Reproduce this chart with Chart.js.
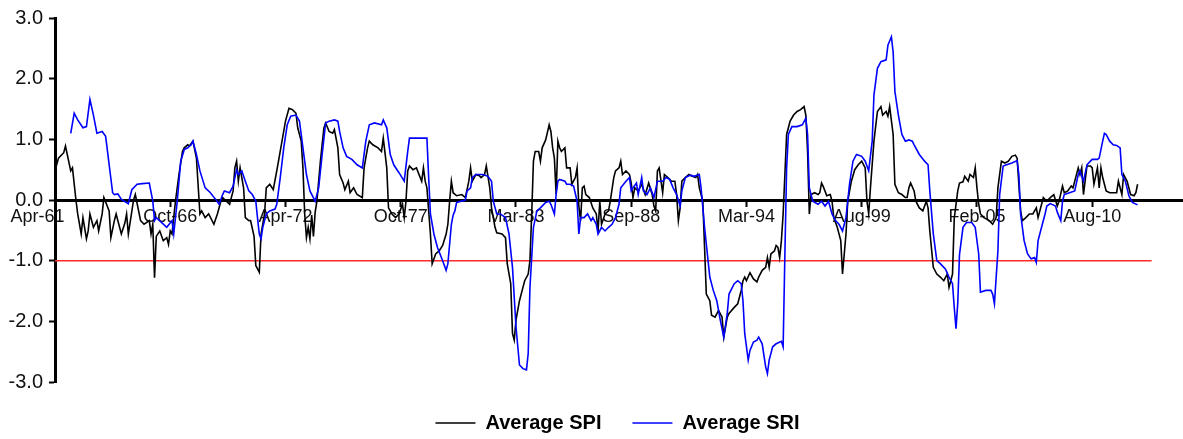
<!DOCTYPE html>
<html>
<head>
<meta charset="utf-8">
<script src="https://cdn.jsdelivr.net/npm/chart.js@4"></script>
<style>
  html, body { margin: 0; padding: 0; background: #fff; }
  canvas { display: block; }
</style>
</head>
<body>
<canvas id="graphique" width="1183" height="439"></canvas>
<script>
// month offset from Apr-61 (one tick label every 66 months)
const tickMonths = [0, 66, 132, 198, 264, 330, 396, 462, 528, 594];
const tickLabels = ['Apr-61', 'Oct-66', 'Apr-72', 'Oct-77', 'Mar-83', 'Sep-88', 'Mar-94', 'Aug-99', 'Feb-05', 'Aug-10'];
const axisEnd = 646;
const lastMonth = 628;
const droughtLevel = -1.0;

// Average SPI, [month, value]
const spiPoints = [
  [0,0.48],[2,0.69],[5,0.78],[6,0.89],[9,0.48],[10,0.53],[12,0.0],[13,-0.23],[15,-0.56],[16,-0.29],
  [18,-0.64],[19,-0.51],[20,-0.23],[22,-0.45],[24,-0.34],[25,-0.51],[27,-0.23],[28,0.04],[31,-0.18],[32,-0.62],
  [34,-0.34],[35,-0.23],[38,-0.56],[40,-0.38],[41,-0.23],[42,-0.56],[45,0.0],[46,0.09],[49,-0.34],[51,-0.4],
  [54,-0.34],[55,-0.56],[56,-0.4],[57,-1.28],[58,-0.6],[60,-0.51],[62,-0.67],[64,-0.62],[65,-0.73],[66,-0.51],
  [67,-0.56],[69,-0.02],[71,0.42],[73,0.80],[74,0.86],[76,0.91],[77,0.89],[79,0.97],[81,0.69],[83,-0.23],
  [84,-0.18],[86,-0.29],[88,-0.23],[91,-0.40],[93,-0.23],[95,-0.02],[96,0.04],[100,-0.07],[102,0.15],[103,0.53],
  [104,0.64],[105,0.31],[106,0.53],[108,0.2],[109,-0.29],[111,-0.34],[112,-0.34],[114,-0.6],[115,-1.08],[117,-1.19],
  [118,-0.56],[120,-0.23],[121,0.2],[123,0.26],[125,0.17],[127,0.48],[128,0.64],[130,0.97],[132,1.30],[134,1.51],
  [136,1.49],[138,1.43],[139,1.19],[141,0.97],[142,0.53],[143,-0.23],[144,-0.62],[145,-0.45],[146,-0.64],[147,-0.25],
  [148,-0.6],[149,-0.2],[150,-0.02],[152,0.64],[154,1.19],[155,1.27],[157,1.13],[159,1.10],[160,1.16],[162,0.86],
  [163,0.42],[165,0.28],[166,0.17],[168,0.31],[169,0.12],[171,0.2],[173,0.09],[176,0.04],[177,0.53],[179,0.86],
  [180,0.97],[182,0.91],[185,0.86],[187,0.80],[188,1.02],[190,0.53],[191,-0.13],[193,-0.23],[195,-0.29],[197,-0.23],
  [199,-0.07],[200,-0.29],[201,-0.02],[202,0.48],[203,0.56],[205,0.50],[207,0.53],[210,0.31],[211,0.53],[212,0.31],
  [213,0.2],[215,-0.56],[216,-1.05],[218,-0.89],[220,-0.84],[222,-0.75],[224,-0.56],[225,-0.40],[226,-0.02],[227,0.31],
  [228,0.12],[230,0.07],[233,0.09],[235,0.04],[237,0.31],[238,0.53],[239,0.31],[241,0.42],[243,0.40],[244,0.37],
  [246,0.42],[247,0.56],[249,0.20],[250,-0.13],[252,-0.45],[253,-0.54],[256,-0.56],[258,-0.62],[259,-1.05],[261,-1.38],
  [262,-2.20],[263,-2.31],[264,-1.98],[266,-1.66],[268,-1.44],[269,-1.33],[271,-1.22],[272,-1.0],[273,-0.23],[274,0.64],
  [275,0.80],[277,0.80],[278,0.64],[279,0.86],[281,0.99],[283,1.24],[284,1.13],[285,0.86],[286,0.69],[287,0.09],
  [288,0.97],[289,0.86],[290,0.80],[292,0.86],[293,0.53],[295,0.53],[296,0.26],[298,0.37],[299,0.53],[300,-0.1],
  [301,-0.34],[302,0.2],[303,0.23],[304,0.09],[306,0.04],[308,-0.13],[310,-0.23],[311,-0.51],[312,-0.02],[313,-0.40],
  [315,-0.23],[317,-0.18],[318,-0.02],[320,0.37],[321,0.48],[323,0.53],[324,0.64],[325,0.42],[327,0.48],[329,0.42],
  [330,0.28],[331,0.04],[332,0.2],[334,0.15],[336,0.26],[338,0.09],[340,0.28],[342,0.09],[343,-0.1],[344,-0.18],
  [345,0.48],[346,0.53],[348,0.12],[349,0.42],[351,0.37],[353,0.31],[355,0.31],[356,0.09],[357,-0.34],[358,-0.13],
  [359,0.31],[361,0.37],[363,0.42],[365,0.39],[367,0.37],[368,0.42],[369,0.20],[371,-0.02],[372,-0.78],[373,-1.55],
  [375,-1.66],[376,-1.90],[378,-1.93],[380,-1.82],[382,-1.93],[383,-2.26],[385,-1.93],[386,-1.87],[389,-1.77],[391,-1.71],
  [393,-1.49],[394,-1.33],[395,-1.27],[396,-1.33],[398,-1.2],[400,-1.3],[402,-1.35],[403,-1.27],[405,-1.16],[407,-1.11],
  [408,-0.95],[409,-1.11],[410,-0.89],[412,-0.84],[413,-0.75],[414,-0.78],[415,-0.95],[416,-0.67],[417,-0.23],[418,0.42],
  [419,1.08],[421,1.30],[423,1.40],[425,1.46],[427,1.49],[429,1.54],[430,1.40],[431,0.80],[432,-0.23],[433,0.09],
  [435,0.12],[437,0.09],[438,0.12],[439,0.28],[440,0.22],[442,0.07],[444,0.09],[445,-0.02],[446,-0.29],[448,-0.45],
  [450,-0.67],[451,-1.22],[453,-0.56],[454,-0.02],[456,0.3],[458,0.5],[460,0.58],[462,0.64],[464,0.53],[465,-0.02],
  [466,-0.23],[467,0.20],[469,0.97],[471,1.46],[473,1.54],[474,1.40],[476,1.46],[477,1.38],[478,1.54],[480,1.08],
  [481,0.26],[483,0.12],[485,0.09],[487,0.04],[488,0.04],[489,0.20],[490,0.28],[492,0.15],[493,-0.02],[495,-0.13],
  [497,-0.18],[499,-0.02],[500,-0.13],[501,-0.51],[503,-1.11],[505,-1.22],[507,-1.27],[509,-1.33],[511,-1.22],[512,-1.44],
  [514,-1.22],[515,-0.3],[517,0.15],[518,0.28],[520,0.3],[521,0.39],[523,0.31],[524,0.42],[526,0.37],[527,0.53],
  [528,0.20],[529,-0.07],[530,-0.23],[532,-0.29],[535,-0.34],[537,-0.40],[539,-0.29],[540,0.20],[542,0.64],[544,0.61],
  [546,0.64],[548,0.72],[550,0.74],[551,0.69],[552,0.26],[553,-0.18],[554,-0.34],[556,-0.29],[558,-0.23],[560,-0.23],
  [562,-0.13],[563,-0.29],[565,-0.07],[566,0.04],[568,-0.02],[570,0.04],[572,0.09],[574,-0.1],[575,-0.02],[577,0.23],
  [578,0.12],[580,0.15],[582,0.23],[583,0.2],[586,0.53],[587,0.42],[588,0.53],[589,0.09],[591,0.56],[593,0.56],
  [594,0.53],[595,0.26],[597,0.53],[598,0.20],[599,0.53],[600,0.37],[602,0.15],[604,0.12],[606,0.12],[608,0.12],
  [609,0.31],[611,0.09],[612,0.42],[614,0.31],[616,0.09],[618,0.07],[619,0.12],[620,0.26]
];

// Average SRI, [month, value]
const sriPoints = [
  [9,1.10],[11,1.43],[13,1.32],[16,1.19],[18,1.21],[20,1.66],[22,1.40],[24,1.10],[27,1.13],[29,1.05],
  [33,0.12],[34,0.09],[36,0.10],[38,0.01],[42,-0.06],[44,0.17],[47,0.26],[50,0.27],[54,0.28],[56,-0.02],
  [57,-0.34],[58,-0.29],[64,-0.45],[67,-0.34],[68,-0.56],[70,-0.02],[72,0.64],[74,0.83],[76,0.86],[78,0.91],
  [79,0.97],[81,0.75],[83,0.48],[86,0.20],[89,0.12],[92,0.01],[94,-0.07],[96,0.09],[97,0.15],[100,0.12],
  [102,0.23],[104,0.50],[105,0.42],[107,0.48],[109,0.31],[111,0.15],[113,0.09],[115,-0.02],[116,-0.3],[117,-0.56],
  [118,-0.64],[119,-0.45],[121,-0.23],[123,-0.18],[126,-0.15],[127,-0.07],[129,0.37],[131,0.86],[133,1.24],[135,1.38],
  [138,1.40],[140,1.30],[142,0.86],[144,0.42],[146,0.15],[149,-0.02],[151,0.20],[153,0.75],[155,1.27],[157,1.30],
  [160,1.32],[162,1.30],[163,1.13],[165,0.86],[167,0.72],[170,0.67],[173,0.58],[176,0.53],[178,0.97],[180,1.24],
  [183,1.27],[187,1.24],[188,1.32],[190,1.19],[192,0.75],[194,0.58],[197,0.45],[200,0.31],[202,0.80],[203,1.02],
  [207,1.02],[210,1.02],[213,1.02],[214,0.37],[215,-0.23],[217,-0.56],[219,-0.78],[222,-1.0],[224,-1.16],[225,-1.05],
  [227,-0.40],[228,-0.25],[229,-0.18],[230,-0.04],[235,0.0],[236,0.15],[238,0.2],[239,0.37],[241,0.42],[245,0.42],
  [248,0.39],[250,0.31],[251,-0.02],[253,-0.23],[255,-0.23],[258,-0.29],[260,-0.56],[262,-1.11],[264,-2.09],[266,-2.72],
  [268,-2.78],[270,-2.80],[271,-2.53],[272,-1.44],[274,-0.45],[276,-0.18],[278,-0.13],[281,-0.04],[283,-0.02],[284,-0.07],
  [286,-0.23],[287,0.09],[288,0.31],[289,0.34],[292,0.31],[293,0.26],[295,0.26],[297,0.23],[299,-0.02],[300,-0.56],
  [301,-0.29],[303,-0.29],[305,-0.23],[307,-0.34],[308,-0.29],[310,-0.40],[311,-0.56],[313,-0.45],[315,-0.51],[317,-0.45],
  [319,-0.40],[321,-0.29],[323,-0.07],[324,0.20],[327,0.31],[329,0.37],[330,0.15],[331,0.20],[333,0.28],[334,0.09],
  [336,0.37],[337,0.15],[339,0.09],[341,0.2],[343,0.04],[345,0.31],[348,0.31],[350,0.37],[352,0.34],[354,0.20],
  [356,0.09],[358,-0.10],[359,0.15],[361,0.37],[364,0.41],[366,0.39],[369,0.42],[370,0.20],[372,-0.45],[374,-1.0],
  [375,-1.27],[377,-1.49],[379,-1.66],[381,-1.98],[383,-2.26],[385,-1.87],[386,-1.55],[389,-1.38],[391,-1.33],[393,-1.38],
  [394,-1.66],[395,-2.20],[397,-2.64],[398,-2.48],[400,-2.34],[402,-2.31],[403,-2.26],[405,-2.37],[407,-2.75],[408,-2.86],
  [409,-2.64],[411,-2.42],[413,-2.37],[416,-2.33],[417,-2.42],[418,-0.9],[419,0.53],[420,1.08],[422,1.21],[425,1.21],
  [428,1.24],[430,1.35],[431,1.08],[432,0.20],[434,-0.02],[437,-0.07],[439,-0.02],[441,-0.10],[443,-0.02],[445,-0.23],
  [447,-0.34],[449,-0.40],[451,-0.51],[453,-0.29],[455,0.26],[457,0.64],[459,0.75],[462,0.72],[464,0.64],[466,0.48],
  [468,0.97],[469,1.73],[471,2.17],[473,2.28],[476,2.31],[477,2.55],[479,2.69],[480,2.44],[481,1.79],[483,1.40],
  [485,1.08],[487,0.97],[489,0.99],[491,0.97],[492,0.91],[495,0.75],[498,0.64],[500,0.58],[501,0.15],[503,-0.56],
  [505,-1.0],[507,-1.05],[510,-1.14],[512,-1.27],[514,-1.38],[515,-1.77],[516,-2.12],[517,-1.7],[518,-0.9],[520,-0.45],
  [522,-0.37],[525,-0.37],[527,-0.45],[529,-0.89],[530,-1.52],[533,-1.49],[536,-1.49],[537,-1.55],[538,-1.71],[540,-0.84],
  [541,0.09],[543,0.56],[545,0.58],[548,0.61],[551,0.65],[552,0.42],[553,-0.23],[555,-0.67],[557,-0.89],[559,-0.97],
  [561,-0.95],[562,-1.03],[563,-0.67],[565,-0.45],[567,-0.23],[568,-0.10],[570,-0.06],[573,-0.1],[574,-0.2],[576,-0.34],
  [577,-0.02],[578,0.09],[581,0.12],[584,0.15],[586,0.42],[587,0.48],[589,0.31],[591,0.58],[593,0.64],[594,0.67],
  [597,0.67],[598,0.69],[600,0.97],[601,1.10],[602,1.08],[604,0.97],[606,0.91],[608,0.90],[610,0.86],[611,0.42],
  [613,0.31],[615,0.07],[617,-0.04],[620,-0.08]
];

function toXY(points) {
  return points.map(p => ({ x: p[0], y: p[1] }));
}

const police = "'Liberation Sans', Arial, sans-serif";

// legend box fixed at 57px so the plot ends at y=382, then nudged right
const legendGap = {
  id: 'legendGap',
  beforeInit(chart) {
    const fitOrig = chart.legend.fit;
    chart.legend.fit = function() {
      fitOrig.bind(chart.legend)();
      this.height = 57;
    };
  },
  afterLayout(chart) {
    chart.legend.left += 26;
    chart.legend.right += 26;
  }
};

new Chart(document.getElementById('graphique').getContext('2d'), {
  type: 'line',
  data: {
    datasets: [
      {
        label: 'Average SPI',
        data: toXY(spiPoints),
        borderColor: '#000000',
        backgroundColor: '#000000',
        borderWidth: 1.6,
        pointRadius: 0,
        tension: 0,
        order: 2
      },
      {
        label: 'Average SRI',
        data: toXY(sriPoints),
        borderColor: '#0000ff',
        backgroundColor: '#0000ff',
        borderWidth: 1.6,
        pointRadius: 0,
        tension: 0,
        order: 1
      },
      {
        label: 'seuil',
        data: [{ x: 0, y: droughtLevel }, { x: lastMonth, y: droughtLevel }],
        borderColor: '#ff2a2a',
        borderWidth: 1.5,
        pointRadius: 0,
        order: 3
      }
    ]
  },
  options: {
    responsive: false,
    animation: false,
    layout: { padding: { left: 0, right: 0, top: 16, bottom: 0 } },
    scales: {
      x: {
        type: 'linear',
        min: 0,
        max: axisEnd,
        position: { y: 0 },
        afterBuildTicks: scale => { scale.ticks = tickMonths.map(v => ({ value: v })); },
        border: { color: '#000', width: 3 },
        grid: { drawOnChartArea: false, drawTicks: true, tickLength: 5, tickWidth: 2, tickColor: '#000' },
        ticks: {
          autoSkip: false,
          maxRotation: 0,
          padding: 1,
          color: '#111',
          font: { family: police, size: 18 },
          // first label sits left of its tick, as in the original
          callback: v => {
            const i = tickMonths.indexOf(v);
            return i === 0 ? tickLabels[i] + '       ' : tickLabels[i];
          }
        }
      },
      y: {
        min: -3,
        max: 3,
        afterFit: scale => { scale.width = 55; },
        border: { color: '#000', width: 3 },
        grid: { drawOnChartArea: false, drawTicks: true, tickLength: 6, tickWidth: 2, tickColor: '#000' },
        ticks: {
          stepSize: 1,
          padding: 6,
          color: '#111',
          font: { family: police, size: 20 },
          callback: v => v.toFixed(1)
        }
      }
    },
    plugins: {
      tooltip: { enabled: false },
      legend: {
        position: 'bottom',
        labels: {
          usePointStyle: true,
          pointStyle: 'line',
          pointStyleWidth: 40,
          padding: 31,
          color: '#000',
          font: { family: police, size: 20, weight: 'bold' },
          filter: item => item.text !== 'seuil',
          sort: (a, b) => a.datasetIndex - b.datasetIndex
        }
      }
    }
  },
  plugins: [legendGap]
});
</script>
</body>
</html>
